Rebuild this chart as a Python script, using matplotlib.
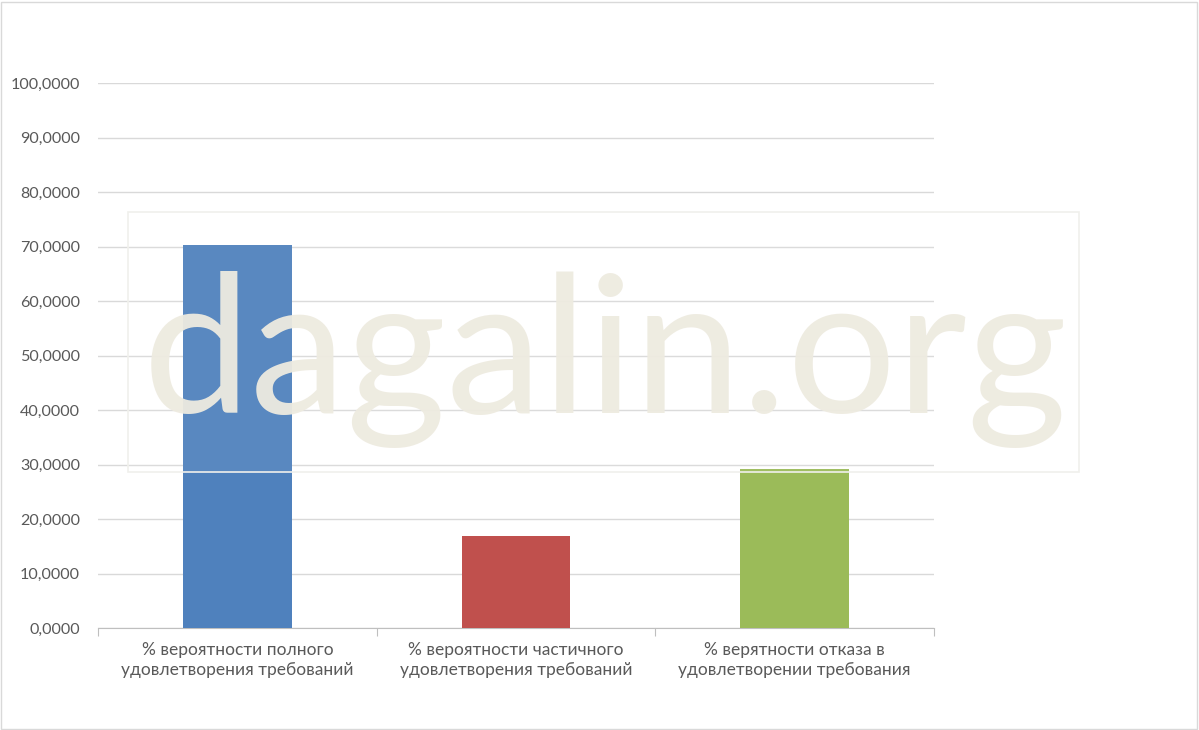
import matplotlib
matplotlib.use("Agg")
import matplotlib.pyplot as plt
from matplotlib.patches import Rectangle
from matplotlib.ticker import FuncFormatter, MultipleLocator

categories = ["% вероятности полного\nудовлетворения требований",
              "% вероятности частичного\nудовлетворения требований",
              "% верятности отказа в\nудовлетворении требования"]
values = [70.3, 16.9, 29.2]
colors = ["#4F81BD", "#C0504D", "#9BBB59"]
watermark = "dagalin.org"

plt.rcParams['font.family'] = ['Lato', 'DejaVu Sans']

fig = plt.figure(figsize=(11.99, 7.30), dpi=100)
W, H = 1199, 730
ax = fig.add_axes([98 / W, 1 - 628 / H, (934 - 98) / W, (628 - 83) / H])

x = list(range(len(categories)))
ax.bar(x, values, width=0.39, color=colors, zorder=3)
ax.set_xlim(-0.5, 2.5)
ax.set_ylim(0, 100)
ax.yaxis.set_major_locator(MultipleLocator(10))
ax.yaxis.set_major_formatter(FuncFormatter(lambda v, p: f"{v:.4f}".replace(".", ",")))
ax.grid(axis="y", color="#D9D9D9", linewidth=1, zorder=0)
for s in ["top", "right", "left"]:
    ax.spines[s].set_visible(False)
ax.spines["bottom"].set_color("#BFBFBF")
ax.tick_params(axis="y", length=0, pad=13, labelsize=11.6, labelcolor="#595959")
ax.set_xticks([-0.5, 0.5, 1.5, 2.5])
ax.set_xticklabels([])
ax.tick_params(axis="x", length=6, color="#BFBFBF")
for i, c in enumerate(categories):
    ax.text(i, -2.6, c, ha="center", va="top", fontsize=12.5, color="#595959",
            linespacing=1.3, transform=ax.transData)

# figure border
fig.patches.append(Rectangle((1 / W, 1 / H), 1 - 3 / W, 1 - 3 / H, transform=fig.transFigure,
                             fill=False, edgecolor="#D9D9D9", linewidth=1))
# watermark box
fig.patches.append(Rectangle((128 / W, 1 - 472 / H), (1079 - 128) / W, (472 - 212) / H,
                             transform=fig.transFigure, facecolor=(1, 1, 1, 0.06),
                             edgecolor="#F0F0EC", linewidth=1.2, zorder=5))
fig.text(605 / W, 1 - 413 / H, watermark, ha="center", va="baseline", fontsize=139,
         color="#EEEBE0", alpha=0.95, fontweight="normal", zorder=6, family=['Lato', 'DejaVu Sans'])

fig.savefig("out.png", dpi=100)
